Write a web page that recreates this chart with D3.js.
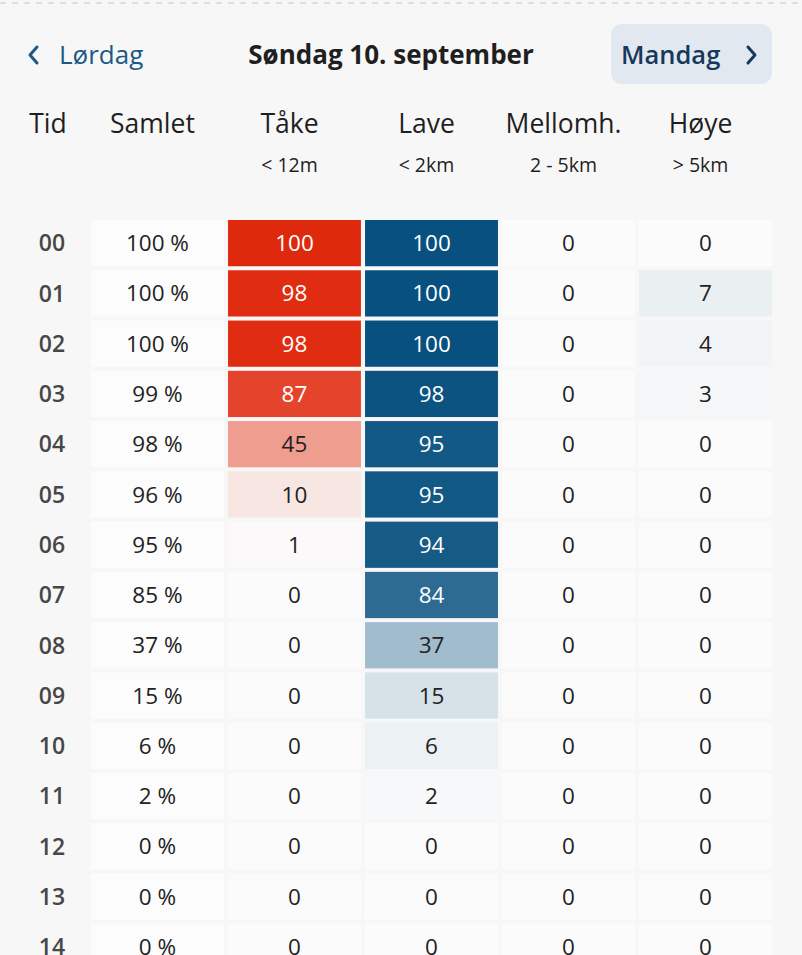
<!DOCTYPE html>
<html><head><meta charset="utf-8">
<script src="https://cdn.jsdelivr.net/npm/d3@7"></script>
<style>
html,body{margin:0;padding:0;background:#f7f7f7;overflow:hidden;}
svg{display:block;font-family:"Open Sans","Noto Sans",sans-serif;}
</style></head><body>
<script>
const hours = ["00","01","02","03","04","05","06","07","08","09","10","11","12","13","14"];
const samlet = [100,100,100,99,98,96,95,85,37,15,6,2,0,0,0];
const take   = [100,98,98,87,45,10,1,0,0,0,0,0,0,0,0];
const lave   = [100,100,100,98,95,95,94,84,37,15,6,2,0,0,0];
const mellom = [0,0,0,0,0,0,0,0,0,0,0,0,0,0,0];
const hoye   = [0,7,4,3,0,0,0,0,0,0,0,0,0,0,0];
const columns = ["Samlet","Tåke","Lave","Mellomh.","Høye"];
const subLabels = ["","< 12m","< 2km","2 - 5km","> 5km"];
const title = "Søndag 10. september";
const prevDay = "Lørdag", nextDay = "Mandag";

const W = 802, H = 955;
const svg = d3.select("body").append("svg").attr("width", W).attr("height", H);
svg.append("rect").attr("width", W).attr("height", H).attr("fill", "#f7f7f7");
svg.append("line").attr("x1",0).attr("x2",W).attr("y1",3).attr("y2",3)
  .attr("stroke","#d8d8d8").attr("stroke-width",1.5).attr("stroke-dasharray","6,6");

// navigation header
const nav = svg.append("g");
nav.append("path").attr("d","M37,47 L30,55 L37,63").attr("fill","none")
  .attr("stroke","#1c5a85").attr("stroke-width",3).attr("stroke-linecap","round").attr("stroke-linejoin","round");
nav.append("text").attr("x",59).attr("y",64).attr("font-size",26).attr("font-weight",500).attr("fill","#1c5a85").text(prevDay);
nav.append("text").attr("x",391).attr("y",64).attr("text-anchor","middle").attr("font-size",26)
  .attr("font-weight",700).attr("fill","#1f1f1f").text(title);
nav.append("rect").attr("x",611).attr("y",24).attr("width",161).attr("height",60).attr("rx",11).attr("fill","#e2e8ef");
nav.append("text").attr("x",621).attr("y",64).attr("font-size",25.5).attr("font-weight",600).attr("fill","#15395c").text(nextDay);
nav.append("path").attr("d","M748,47 L755,55 L748,63").attr("fill","none")
  .attr("stroke","#15395c").attr("stroke-width",3).attr("stroke-linecap","round").attr("stroke-linejoin","round");

// scales
const x = d3.scaleBand().domain(columns).range([91, 772]).paddingInner(0.03);
const y = d3.scaleBand().domain(hours).range([220, 220 + 50*hours.length]).paddingInner(0.08);
const tidX = 52;

const redScale = d3.scaleLinear().domain([0,100]).range(["#fbfbfb","#df290c"]).interpolate(d3.interpolateRgb);
const blueScale = d3.scaleLinear().domain([0,100]).range(["#fbfbfb","#07507f"]).interpolate(d3.interpolateRgb);

// column headers
const hdr = svg.append("g");
hdr.append("text").attr("x",48).attr("y",133).attr("text-anchor","middle").attr("font-size",26.5)
  .attr("fill","#1f1f1f").text("Tid");
columns.forEach((c,i)=>{
  const cx = x(c) + x.bandwidth()/2 - 5;
  hdr.append("text").attr("x",cx).attr("y",133).attr("text-anchor","middle").attr("font-size",26.5)
    .attr("fill","#1f1f1f").text(c);
  if (subLabels[i]) hdr.append("text").attr("x",cx).attr("y",172).attr("text-anchor","middle")
    .attr("font-size",19.5).attr("fill","#1f1f1f").text(subLabels[i]);
});

// rows
const series = [
  {key:"Samlet", vals:samlet, fmt:v=>v+" %", color:()=>"#fcfcfc"},
  {key:"Tåke", vals:take, fmt:v=>v, color:v=>redScale(v)},
  {key:"Lave", vals:lave, fmt:v=>v, color:v=>blueScale(v)},
  {key:"Mellomh.", vals:mellom, fmt:v=>v, color:v=>blueScale(v)},
  {key:"Høye", vals:hoye, fmt:v=>v, color:v=>blueScale(v)}
];
const rows = svg.append("g").selectAll("g").data(hours).join("g");
rows.append("text").attr("x",tidX).attr("y",h=>y(h)+y.bandwidth()/2).attr("dy","0.36em")
  .attr("text-anchor","middle").attr("font-size",23).attr("font-weight",600).attr("fill","#474747").text(h=>h);

series.forEach(s=>{
  const cells = svg.append("g").selectAll("g").data(hours.map((h,i)=>({h, v:s.vals[i]}))).join("g");
  cells.append("rect").attr("x",x(s.key)).attr("y",d=>y(d.h)).attr("width",x.bandwidth())
    .attr("height",y.bandwidth()).attr("fill",d=>s.color(d.v));
  cells.append("text").attr("x",x(s.key)+x.bandwidth()/2).attr("y",d=>y(d.h)+y.bandwidth()/2)
    .attr("dy","0.36em").attr("text-anchor","middle").attr("font-size",22.5)
    .attr("fill",d=> (s.key!=="Samlet" && d.v>=60) ? "#ffffff" : "#222222")
    .text(d=>s.fmt(d.v));
});
</script>
</body></html>
